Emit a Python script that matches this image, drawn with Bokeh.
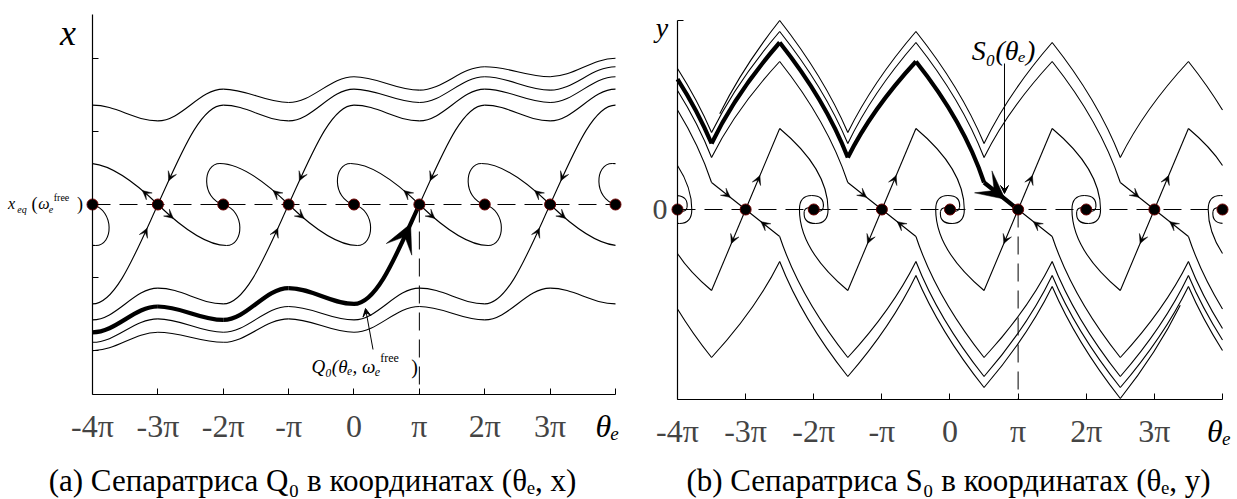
from bokeh.plotting import figure
from bokeh.layouts import row
from bokeh.models import Arrow, VeeHead, Label, FixedTicker, Range1d, ColumnDataSource
from bokeh.embed import file_html
from bokeh.resources import INLINE

SERIF = "Liberation Serif"

# ------------------------------------------------------------------ data
theta_lo, theta_hi = -4, 4                              # plotted theta_e / pi interval
theta_ticks = [-4, -3, -2, -1, 0, 1, 2, 3, 4]
theta_labels = ["-4π", "-3π", "-2π", "-π", "0", "π", "2π", "3π", ""]
theta_end_label = "θₑ"
equilibria = [-4, -3, -2, -1, 0, 1, 2, 3, 4]
saddles = [-5, -3, -1, 1, 3, 5]
marked_theta = 1

# panel (a): (theta_e / pi, x - x_eq)
a_y_lo, a_y_hi = -190, 190
a_y_ticks = [-146, -73, 0, 73, 146]
a_crests = [99.4, 83.6, 115.4, 102.0, 127.8, 114.4, 137.8, 127.8, 146.2]
a_births = [-4, -2, 0, 2]
a_q0_saddle = 1
a_stable = [(0.35, 50.0), (0.65, 99.4), (1.0, 99.4)]
a_unstable = [[(-0.35, 22.0), (-0.75, 41.0), (-1.05, 41.0)],
              [(-1.32, 41.0), (-1.34, 6.0), (-1.0, 0.0)]]

# panel (b): (theta_e / pi, y)
b_y_lo, b_y_hi = -190, 189
b_y_ticks = [0, 189]
b_family = [27, 148, 52, 167, 66, 178, 77, 189]
b_family_saddles = [-3, -1, 1, 3, 5]
b_s0_saddle = 1
b_start_saddle = 5
b_start = (-3.38, 95.7)
b_arc_axis = -60.0
b_inner_peak = (0.5, 81.0)
b_inner_vertex = 1.21
b_loop = [((1.21, -14.0), (1.03, -14.0)), ((0.84, -14.0), (0.86, -2.0)),
          ((0.88, 4.0), (1.0, 0.0))]


# ------------------------------------------------------------------ helpers
def seg_line(p, q):
    return (p, (p[0] + (q[0] - p[0]) / 3, p[1] + (q[1] - p[1]) / 3),
            (p[0] + 2 * (q[0] - p[0]) / 3, p[1] + 2 * (q[1] - p[1]) / 3), q)


def seg_quad(p, c, q):
    return (p, (p[0] + 2 / 3 * (c[0] - p[0]), p[1] + 2 / 3 * (c[1] - p[1])),
            (q[0] + 2 / 3 * (c[0] - q[0]), q[1] + 2 / 3 * (c[1] - q[1])), q)


def seg_wave(p, q):
    d = q[0] - p[0]
    return (p, (p[0] + 0.3634 * d, p[1]), (q[0] - 0.3634 * d, q[1]), q)


def seg_parab(p, q, h0=0.0):
    a, b = p[1] - h0, q[1] - h0
    c = (p[0] + (q[0] - p[0]) * a / (a + b), (p[1] + q[1]) / 2)
    return seg_quad(p, c, q)


def rot(seg):
    return tuple((-x, -y) for x, y in seg)


def bez(seg, t):
    m = 1 - t
    w = (m ** 3, 3 * m * m * t, 3 * m * t * t, t ** 3)
    return (sum(wi * pt[0] for wi, pt in zip(w, seg)),
            sum(wi * pt[1] for wi, pt in zip(w, seg)))


def split(seg, t):
    def lerp(a, b):
        return (a[0] + (b[0] - a[0]) * t, a[1] + (b[1] - a[1]) * t)
    p0, p1, p2, p3 = seg
    p01, p12, p23 = lerp(p0, p1), lerp(p1, p2), lerp(p2, p3)
    p012, p123 = lerp(p01, p12), lerp(p12, p23)
    m = lerp(p012, p123)
    return (p0, p01, p012, m), (m, p123, p23, p3)


def sub(seg, t0, t1):
    if t0 > 0:
        seg = split(seg, t0)[1]
    if t1 < 1:
        seg = split(seg, (t1 - t0) / (1 - t0))[0]
    return seg


def clip(segs, ylo, yhi, n=240):
    out = []
    for seg in segs:
        def ok(t):
            x, y = bez(seg, t)
            return theta_lo - 1e-9 <= x <= theta_hi + 1e-9 and ylo - 1e-9 <= y <= yhi + 1e-9

        def edge(ta, tb):
            fa = ok(ta)
            for _ in range(30):
                tm = (ta + tb) / 2
                if ok(tm) == fa:
                    ta = tm
                else:
                    tb = tm
            return (ta + tb) / 2

        ts = [i / n for i in range(n + 1)]
        flags = [ok(t) for t in ts]
        i = 0
        while i <= n:
            if flags[i]:
                j = i
                while j + 1 <= n and flags[j + 1]:
                    j += 1
                t0 = 0.0 if i == 0 else edge(ts[i - 1], ts[i])
                t1 = 1.0 if j == n else edge(ts[j], ts[j + 1])
                if t1 > t0 and t0 < 1:
                    out.append(sub(seg, t0, t1))
                i = j + 1
            else:
                i += 1
    return out


def head(seg, t, forward=True, dt=0.03):
    tip = bez(seg, t)
    tail = bez(seg, t - dt if forward else t + dt)
    return (tail, tip)


def rot_head(h):
    return ((-h[0][0], -h[0][1]), (-h[1][0], -h[1][1]))


def inside(h, ylo, yhi):
    return theta_lo <= h[1][0] <= theta_hi and ylo <= h[1][1] <= yhi


def draw_beziers(p, segs, width):
    if not segs:
        return
    p.bezier(x0=[s[0][0] for s in segs], y0=[s[0][1] for s in segs],
             cx0=[s[1][0] for s in segs], cy0=[s[1][1] for s in segs],
             cx1=[s[2][0] for s in segs], cy1=[s[2][1] for s in segs],
             x1=[s[3][0] for s in segs], y1=[s[3][1] for s in segs],
             line_color="black", line_width=width)


def draw_heads(p, heads, size):
    if not heads:
        return
    src = ColumnDataSource(dict(x0=[h[0][0] for h in heads], y0=[h[0][1] for h in heads],
                                x1=[h[1][0] for h in heads], y1=[h[1][1] for h in heads]))
    p.add_layout(Arrow(end=VeeHead(size=size, fill_color="black", line_color="black", line_width=0.5),
                       x_start="x0", y_start="y0", x_end="x1", y_end="y1", source=src,
                       line_color="black", line_width=1))


def label(p, x, y, text, size, style="normal", align="center", baseline="middle"):
    p.add_layout(Label(x=x, y=y, text=text, text_font=SERIF, text_font_size=size,
                       text_font_style=style, text_align=align, text_baseline=baseline,
                       text_color="black"))


def make_fig(width, xr, yr, ylo, yhi):
    # the frame fills the whole canvas; axes are pinned at the data edges
    p = figure(frame_width=width, frame_height=499, x_range=Range1d(*xr), y_range=Range1d(*yr),
               output_backend="svg", toolbar_location=None, title=None,
               min_border=0, min_border_left=0, min_border_right=0,
               min_border_top=0, min_border_bottom=0)
    p.grid.visible = False
    p.outline_line_color = None
    p.background_fill_color = "white"
    p.border_fill_color = "white"
    for ax in (p.xaxis[0], p.yaxis[0]):
        ax.axis_line_color = "black"
        ax.axis_line_width = 1.2
        ax.major_tick_line_color = "black"
        ax.major_tick_in = 6
        ax.major_tick_out = 0
        ax.minor_tick_line_color = None
    p.xaxis.fixed_location = ylo
    p.xaxis.bounds = (theta_lo, theta_hi)
    p.yaxis.fixed_location = theta_lo
    p.yaxis.bounds = (ylo, yhi)
    p.xaxis.ticker = FixedTicker(ticks=theta_ticks, minor_ticks=[])
    p.xaxis.major_label_overrides = dict(zip(theta_ticks, theta_labels))
    p.xaxis.major_label_text_font = SERIF
    p.xaxis.major_label_text_font_size = "32px"
    p.xaxis.major_label_standoff = 13
    return p


# ------------------------------------------------------------------ panel (a)
pa = make_fig(625, (-5.4073, 4.1530), (-295, 204), a_y_lo, a_y_hi)
pa.yaxis.ticker = FixedTicker(ticks=a_y_ticks, minor_ticks=[])
pa.yaxis.major_label_overrides = {t: "" for t in a_y_ticks}

a_thin, a_thick, a_heads, a_big = [], [], [], []
for s in saddles:
    ur = tuple([(s, 0.0)] + [(s + dx, h) for dx, h in a_stable])
    ul, p0 = [], (s, 0.0)
    for ctrl in a_unstable:
        sg = tuple([p0] + [(s + dx, h) for dx, h in ctrl])
        ul.append(sg)
        p0 = sg[-1]
    a_thin.append(ur)
    a_thin.extend(ul)
    a_thin.extend(rot(sg) for sg in ul)
    if -s == a_q0_saddle:
        a_thick.append(rot(ur))
        a_big.append(head(rot(ur), 0.13, forward=False, dt=0.08))
    else:
        a_thin.append(rot(ur))
        a_heads.append(rot_head(head(ur, 0.16, forward=False)))
    a_heads.append(head(ur, 0.16, forward=False))
    h_ul = head(ul[0], 0.22)
    a_heads.append(h_ul)
    a_heads.append(rot_head(h_ul))

for b0 in a_births:
    ext = [(b0 + j, a_crests[j]) for j in range(len(a_crests)) if b0 + j <= theta_hi]
    segs = [seg_wave(ext[i], ext[i + 1]) for i in range(len(ext) - 1)]
    a_thin.extend(segs)
    if -b0 == a_q0_saddle - 1:
        a_thick.extend(rot(sg) for sg in segs)
    else:
        a_thin.extend(rot(sg) for sg in segs)

pa.segment(x0=[theta_lo], y0=[0], x1=[theta_hi], y1=[0], line_dash="18 9",
           line_color="black", line_width=1)
pa.segment(x0=[marked_theta], y0=[0], x1=[marked_theta], y1=[a_y_lo], line_dash="18 9",
           line_color="black", line_width=1)
draw_beziers(pa, clip(a_thin, a_y_lo, a_y_hi), 1.1)
draw_beziers(pa, clip(a_thick, a_y_lo, a_y_hi), 4.2)
draw_heads(pa, [h for h in a_heads if inside(h, a_y_lo, a_y_hi)], 9)
draw_heads(pa, a_big, 28)
pa.scatter(equilibria, [0] * len(equilibria), size=11, fill_color="black",
           line_color="#6b0000", line_width=1)

label(pa, -4.375, 172, "x", "36px", "italic", baseline="alphabetic")
label(pa, -5.239, 1, "x", "16px", "italic")
label(pa, -5.078, -4.5, "eq", "10px", "italic")
label(pa, -4.887, 1, "(", "18px")
label(pa, -4.742, 1, "ω", "16px", "italic")
label(pa, -4.635, -5, "e", "10px", "italic")
label(pa, -4.474, 7, "free", "10px")
label(pa, -4.191, 1, ")", "18px")
label(pa, -0.650, -162, "Q₀(θₑ, ω", "19px", "italic", "left")
label(pa, 0.359, -167, "e", "12px", "italic")
label(pa, 0.543, -153, "free", "12px")
label(pa, 0.925, -162, ")", "20px")
pa.add_layout(Arrow(end=VeeHead(size=8, fill_color="black", line_color="black"),
                    x_start=0.291, y_start=-145, x_end=0.176, y_end=-104,
                    line_color="black", line_width=1))
label(pa, 3.877, a_y_lo - 13, theta_end_label, "32px", "italic", baseline="top")
label(pa, -0.635, -276, "(a) Сепаратриса Q₀ в координатах (θₑ, x)", "31px")

# ------------------------------------------------------------------ panel (b)
pb = make_fig(612, (-4.7633, 4.2202), (-290, 209), b_y_lo, b_y_hi)
pb.yaxis.ticker = FixedTicker(ticks=b_y_ticks, minor_ticks=[])
pb.yaxis.major_label_overrides = {0: "0", 189: ""}
pb.yaxis.major_label_text_font = SERIF
pb.yaxis.major_label_text_font_size = "30px"
pb.yaxis.major_label_standoff = 10

b_thin, b_thick, b_heads, b_big = [], [], [], []
for s in b_family_saddles:
    ext = [(s - 0.5 - j, b_family[j]) for j in range(len(b_family)) if s - 0.5 - j >= -4.5]
    if s == b_start_saddle:
        ext.append(b_start)
    ext = ext[::-1]
    segs = [seg_parab(ext[i], ext[i + 1], b_arc_axis) for i in range(len(ext) - 1)]
    last = seg_line(ext[-1], (s, 0.0))
    segs.append(last)
    if s == b_s0_saddle:
        b_thick.extend(segs)
        b_big.append(head(last, 0.62, dt=0.12))
    else:
        b_thin.extend(segs)
        b_heads.append(head(last, 0.55))
    b_thin.extend(rot(sg) for sg in segs)
    b_heads.append(rot_head(head(last, 0.55)))

for s in saddles:
    pk = (s + b_inner_peak[0], b_inner_peak[1])
    vx = (s + b_inner_vertex, 0.0)
    segs = [seg_line((s, 0.0), pk), seg_quad(pk, (vx[0], pk[1] / 2), vx)]
    p0 = vx
    for (cx, cy), (ex, ey) in b_loop:
        q = (s + ex, ey)
        segs.append(seg_quad(p0, (s + cx, cy), q))
        p0 = q
    b_thin.extend(segs)
    b_thin.extend(rot(sg) for sg in segs)
    h_in = head(segs[0], 0.42)
    b_heads.append(h_in)
    b_heads.append(rot_head(h_in))

pb.segment(x0=[theta_lo], y0=[0], x1=[theta_hi], y1=[0], line_dash="18 9",
           line_color="black", line_width=1)
pb.segment(x0=[marked_theta], y0=[0], x1=[marked_theta], y1=[b_y_lo], line_dash="18 9",
           line_color="black", line_width=1)
draw_beziers(pb, clip(b_thin, b_y_lo, b_y_hi), 1.1)
draw_beziers(pb, clip(b_thick, b_y_lo, b_y_hi), 4.2)
draw_heads(pb, [h for h in b_heads if inside(h, b_y_lo, b_y_hi)], 9)
draw_heads(pb, b_big, 28)
pb.scatter(equilibria, [0] * len(equilibria), size=11, fill_color="black",
           line_color="#6b0000", line_width=1)

label(pb, -4.228, 182, "y", "28px", "italic", baseline="alphabetic")
label(pb, 0.785, 159, "S₀(θₑ)", "28px", "italic")
pb.add_layout(Arrow(end=VeeHead(size=8, fill_color="black", line_color="black"),
                    x_start=0.80, y_start=146, x_end=0.80, y_end=16,
                    line_color="black", line_width=1))
label(pb, 3.95, b_y_lo - 13, theta_end_label, "32px", "italic", baseline="top")
label(pb, -0.022, -271, "(b) Сепаратриса S₀ в координатах (θₑ, y)", "31px")

layout = row(pa, pb)
open("out.html", "w").write(file_html(layout, INLINE))
